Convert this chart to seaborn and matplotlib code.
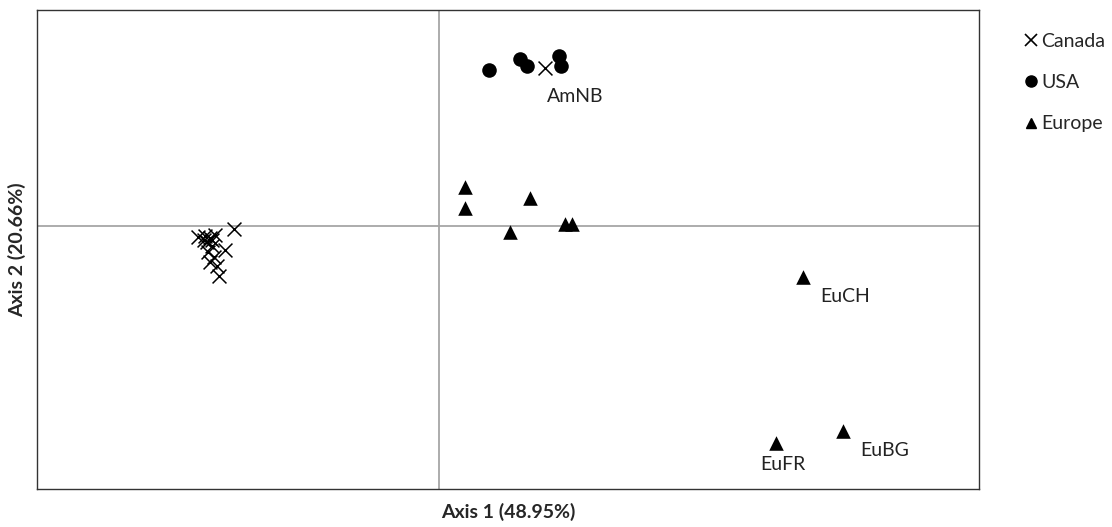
import matplotlib
matplotlib.use("Agg")
import matplotlib.pyplot as plt
import seaborn as sns
import pandas as pd
from matplotlib.lines import Line2D

canada_x = [-2.05, -2.41, -2.34, -2.29, -2.24, -2.32, -2.27, -2.14, -2.31, -2.25, -2.29, -2.22, -2.20, -2.35, -2.27, 1.06]
canada_y = [-0.03, -0.11, -0.10, -0.12, -0.09, -0.16, -0.20, -0.24, -0.26, -0.31, -0.36, -0.40, -0.50, -0.14, -0.14, 1.58]
usa_x = [0.50, 0.81, 0.88, 1.20, 1.22]
usa_y = [1.56, 1.67, 1.60, 1.70, 1.60]
europe_x = [0.26, 0.26, 0.91, 0.71, 1.26, 1.33, 3.64, 3.37, 4.04]
europe_y = [0.39, 0.18, 0.28, -0.06, 0.02, 0.02, -0.51, -2.17, -2.05]
groups = ["Canada", "USA", "Europe"]
labels = {"AmNB": (1.06, 1.58), "EuCH": (3.64, -0.51), "EuFR": (3.37, -2.17), "EuBG": (4.04, -2.05)}

df = pd.DataFrame({
    "x": canada_x + usa_x + europe_x,
    "y": canada_y + usa_y + europe_y,
    "g": ["Canada"] * len(canada_x) + ["USA"] * len(usa_x) + ["Europe"] * len(europe_x),
})

sns.set_style("white")
plt.rcParams['font.family'] = ['Lato', 'DejaVu Sans']

fig = plt.figure(figsize=(11.12, 5.27), dpi=100)
ax = fig.add_axes([37/1112, 1-489/527, (979-37)/1112, (489-10)/527])

ax.axhline(0, color="#a6a6a6", lw=1.3, zorder=0)
ax.axvline(0, color="#a6a6a6", lw=1.3, zorder=0)

markers = {"Canada": "x", "USA": "o", "Europe": "^"}
for g in groups:
    sub = df[df.g == g]
    sns.scatterplot(data=sub, x="x", y="y", marker=markers[g], color="black",
                    s=110 if g != "Canada" else 100, linewidth=1.1 if g == "Canada" else 0,
                    edgecolor="black", ax=ax, legend=False, zorder=3)

offsets = {"AmNB": (0.02, -0.29), "EuCH": (0.17, -0.19), "EuFR": (-0.16, -0.21), "EuBG": (0.17, -0.19)}
for name, (lx, ly) in labels.items():
    dx, dy = offsets[name]
    ax.text(lx + dx, ly + dy, name, fontsize=14, ha="left", va="center", color="#222222")

ax.set_xlim(-4.02, 5.40)
ax.set_ylim(-2.63, 2.16)
ax.set_xticks([])
ax.set_yticks([])
for sp in ax.spines.values():
    sp.set_color("#333333")
    sp.set_linewidth(1.0)
ax.set_xlabel("Axis 1 (48.95%)", fontsize=14, fontweight="bold", labelpad=10)
ax.set_ylabel("Axis 2 (20.66%)", fontsize=14, fontweight="bold", labelpad=8)

handles = [Line2D([], [], marker="x", color="black", ls="", markersize=8, mew=1.2),
           Line2D([], [], marker="o", color="black", ls="", markersize=8),
           Line2D([], [], marker="^", color="black", ls="", markersize=7)]
fig.legend(handles, groups, loc="upper left", bbox_to_anchor=(1013/1112, 1-25/527),
           frameon=False, fontsize=14, handletextpad=0.05, labelspacing=1.25,
           handlelength=1.0, borderaxespad=0)

fig.savefig("out.png", dpi=100)
